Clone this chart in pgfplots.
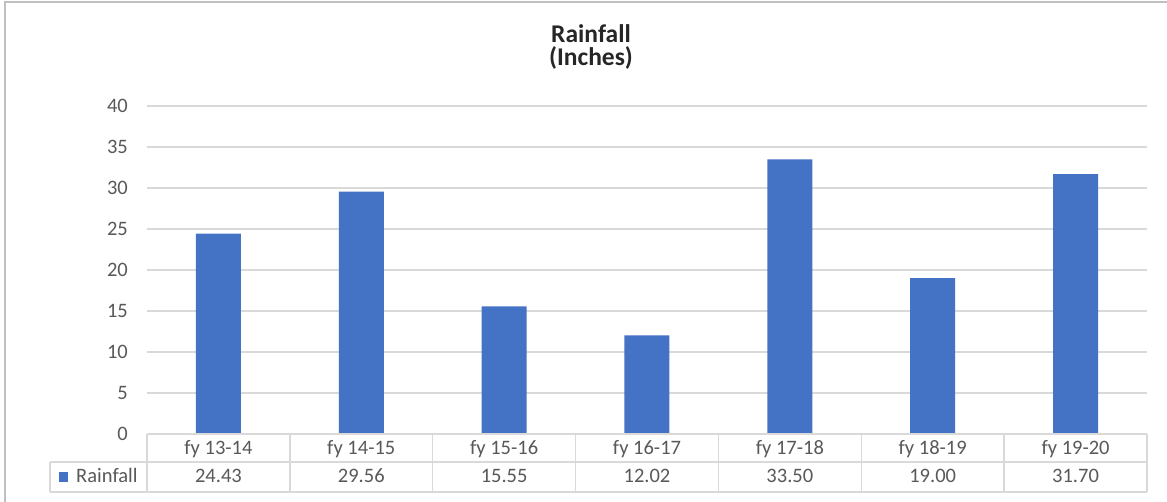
\documentclass[border=0pt]{standalone}
\usepackage{pgfplots}
\pgfplotsset{compat=1.18}
\usepackage{pgfplotstable}
\usepackage{fontspec}
\setmainfont{Carlito}
\definecolor{barblue}{HTML}{4472C4}
\definecolor{txt}{HTML}{595959}
\definecolor{gridc}{HTML}{D9D9D9}
\definecolor{framec}{HTML}{C0C0C0}
\pgfplotstableread{
x y
0 24.43
1 29.56
2 15.55
3 12.02
4 33.50
5 19.00
6 31.70
}\rain
\newcommand\tfont{\fontsize{20.5}{24}\selectfont}
\begin{document}
\begin{tikzpicture}[x=1pt,y=1pt]
\useasboundingbox (0,0) rectangle (1167,502);
\fill[white] (0,0) rectangle (1167,502);
\draw[framec, line width=2pt] (5,0) -- (5,500);
\draw[framec, line width=2pt] (4,499.5) -- (1167,499.5);
\begin{axis}[at={(147pt,68pt)}, anchor=south west, scale only axis,
  width=1000pt, height=328pt,
  xmin=-0.5, xmax=6.5, ymin=0, ymax=40,
  ytick={0,5,...,40}, xtick={0,...,6},
  xticklabels={fy 13-14,fy 14-15,fy 15-16,fy 16-17,fy 17-18,fy 18-19,fy 19-20},
  axis line style={draw=none}, major tick length=0pt,
  ymajorgrids, grid style={gridc, line width=1.5pt},
  /pgf/number format/assume math mode=true,
  ticklabel style={text=txt, font=\tfont, inner sep=0pt},
  yticklabel style={anchor=east, xshift=-19pt},
  xticklabel style={anchor=base, yshift=-21pt},
  clip=false]
\addplot[ybar, bar width=45pt, bar shift=0pt, fill=barblue, draw=none] table[x=x,y=y]{\rain};
\addplot[draw=none, mark=none, point meta=explicit,
  nodes near coords={\pgfmathprintnumber[fixed,fixed zerofill,precision=2,assume math mode=true]{\pgfplotspointmeta}},
  nodes near coords style={anchor=base, inner sep=0pt, yshift=-49pt, text=txt, font=\tfont}]
  table[x=x, y expr=0, meta=y]{\rain};
\end{axis}
% data table grid
\begin{scope}[gridc, line width=1.5pt]
\draw (147,68) -- (1147,68);
\draw (50,40) -- (1147,40);
\draw (50,10) -- (1147,10);
\draw (50,10) -- (50,40);
\foreach \k in {0,...,7} {\draw ({147+\k*1000/7},10) -- ({147+\k*1000/7},68);}
\end{scope}
\fill[barblue] (59,20) rectangle (68,30);
\node[anchor=base west, inner sep=0pt, text=txt, font=\tfont] at (76,19) {Rainfall};
\node[anchor=base, inner sep=0pt, text=black!85, font=\fontsize{25.5}{30}\selectfont\bfseries] at (591,459) {Rainfall};
\node[anchor=base, inner sep=0pt, text=black!85, font=\fontsize{25.5}{30}\selectfont\bfseries] at (591,436) {(Inches)};
\end{tikzpicture}
\end{document}
